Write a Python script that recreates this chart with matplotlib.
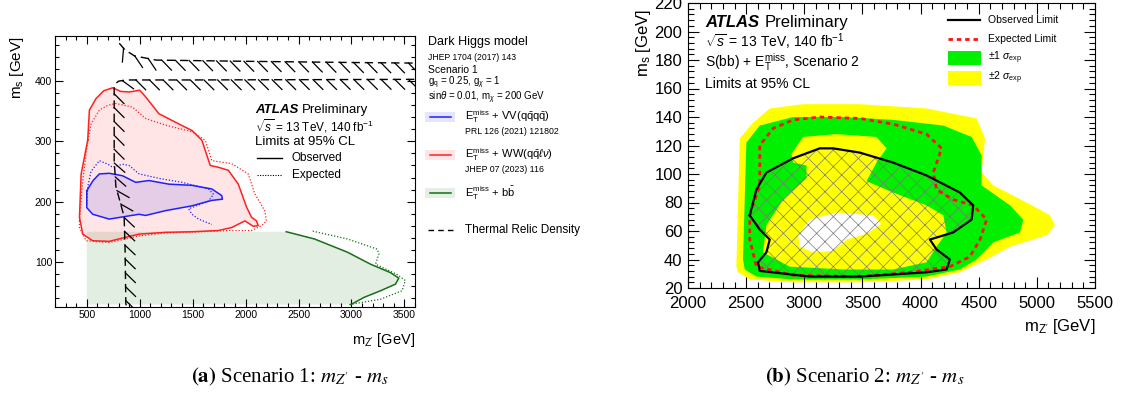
import matplotlib
matplotlib.use('Agg')
import matplotlib.pyplot as plt
import matplotlib.patheffects as pe
from matplotlib.ticker import MultipleLocator

plt.rcParams['font.family'] = ['Liberation Sans', 'DejaVu Sans']
plt.rcParams['mathtext.fontset'] = 'custom'
plt.rcParams['mathtext.rm'] = 'Liberation Sans'
plt.rcParams['mathtext.it'] = 'Liberation Sans:italic'
plt.rcParams['mathtext.bf'] = 'Liberation Sans:bold'
plt.rcParams['mathtext.sf'] = 'Liberation Sans'
plt.rcParams['hatch.linewidth'] = 0.5

# ---- scenario 1 (left): m_Z' vs m_s contours, GeV ----
red_obs_x = [509, 525, 587, 660, 744, 820, 900, 1000, 1056, 1181, 1369, 1494, 1587, 1666, 1744, 1837,
             1931, 2009, 2056, 2103, 2119, 2072, 1994, 1869, 1744, 1500, 1244, 994, 850, 712, 556, 462,
             431, 447, 509]
red_obs_y = [302, 352, 371, 384, 389, 383, 382, 385, 374, 346, 329, 318, 302, 260, 257, 252,
             229, 191, 174, 168, 160, 159, 168, 157, 152, 150, 149, 146, 140, 134, 135, 146,
             174, 246, 302]
red_exp_x = [431, 462, 509, 541, 619, 700, 775, 850, 931, 1056, 1244, 1494, 1619, 1681, 1869, 2025,
             2087, 2181, 2197, 2150, 2056, 1869, 1600, 1244, 994, 712, 494, 431, 431]
red_exp_y = [168, 235, 300, 329, 352, 360, 363, 360, 357, 338, 327, 316, 302, 268, 263, 246,
             213, 185, 168, 160, 152, 152, 150, 148, 143, 132, 135, 157, 168]

blue_obs_x = [500, 560, 619, 712, 837, 962, 1087, 1275, 1494, 1681, 1775, 1781, 1681, 1494, 1244,
              1056, 994, 712, 556, 500, 500]
blue_obs_y = [218, 235, 246, 247, 243, 232, 235, 229, 227, 221, 210, 204, 202, 193, 185,
              177, 179, 171, 179, 190, 218]
blue_exp_x = [500, 510, 540, 619, 700, 744, 840, 900, 994, 1200, 1400, 1650, 1697, 1650, 1462,
              1494, 1556, 1681]
blue_exp_y = [196, 225, 250, 268, 262, 257, 262, 260, 246, 238, 232, 221, 212, 201, 188,
              179, 171, 162]

green_obs_x = [2384, 2650, 2962, 3181, 3369, 3447, 3416, 3275, 3119, 2994]
green_obs_y = [150, 138, 116, 96, 82, 73, 63, 52, 41, 29]
green_exp_x = [2634, 2962, 3244, 3259, 3228, 3431, 3509, 3478, 3275, 2978]
green_exp_y = [151, 138, 121, 113, 96, 79, 69, 52, 38, 29]
green_low_x = 500

relic_v_x = [759, 759, 775, 853, 862, 869, 880]
relic_v_y = [390, 268, 225, 175, 120, 30, 25]
relic_h1_x = [807, 860, 950, 1155, 2000, 3000, 3600]
relic_h1_y = [463, 452, 442, 435, 433, 431, 430]
relic_h2_x = [780, 800, 873, 1500, 3600]
relic_h2_y = [397, 400, 402, 402, 403]

# ---- scenario 2 (right) ----
y2_out_x = [2416, 2445, 2560, 2703, 2990, 3478, 4051, 4482, 4554, 4525, 4625, 4912, 5113, 5156,
            5084, 4769, 4568, 4338, 4051, 3478, 2904, 2531, 2430]
y2_out_y = [35, 125, 136, 146, 149, 149, 146, 139, 125, 101, 92, 80, 71, 64,
            57, 49, 40, 31, 26, 24, 24, 26, 31]
g1_out_x = [2473, 2502, 2617, 2904, 3334, 3764, 4195, 4439, 4525, 4525, 4769, 4883, 4855, 4625,
            4482, 4338, 4051, 3478, 2904, 2588, 2488]
g1_out_y = [40, 122, 134, 140, 140, 138, 134, 126, 113, 92, 78, 68, 59, 52,
            40, 33, 28, 26, 26, 28, 33]
g1_in_x = [2889, 2990, 3277, 3621, 3707, 3621, 3535, 3764, 4051, 4195, 4224, 4138, 4051, 3764,
           3334, 2875, 2645, 2674, 2818, 3019, 3019, 2904]
g1_in_y = [114, 126, 128, 126, 118, 108, 95, 87, 78, 71, 59, 49, 38, 33,
           33, 35, 45, 64, 82, 97, 106, 108]
y2_in_x = [2947, 3047, 3277, 3592, 3664, 3535, 3363, 3248, 3076, 2961]
y2_in_y = [57, 68, 73, 71, 65, 58, 54, 46, 45, 49]
obs2_x = [2531, 2588, 2674, 2904, 3133, 3248, 3478, 3764, 4051, 4338, 4453, 4439, 4281, 4080,
          4138, 4252, 4224, 4051, 3478, 3047, 2617, 2602, 2674, 2703, 2617, 2531]
obs2_y = [71, 89, 101, 111, 118, 118, 115, 108, 99, 87, 78, 68, 59, 54,
          47, 40, 33, 31, 28, 28, 32, 38, 45, 54, 61, 71]
exp2_x = [2531, 2617, 2617, 2732, 2904, 3133, 3478, 3764, 4051, 4181, 4109, 4138, 4281, 4453,
          4568, 4511, 4424, 4252, 3908, 3478, 2904, 2588, 2531, 2531]
exp2_y = [71, 92, 120, 132, 138, 140, 139, 135, 128, 118, 101, 89, 82, 78,
          68, 54, 42, 35, 31, 28, 29, 35, 54, 71]

W, H = 1124, 394
fig = plt.figure(figsize=(W / 100, H / 100), dpi=100)


def box(l, t, r, b):
    return [l / W, 1 - b / H, (r - l) / W, (b - t) / H]


def atlas_ticks(ax, size, maj, mnr, pad):
    ax.tick_params(which='both', direction='in', top=True, right=True, width=0.8,
                   labelsize=size, pad=pad)
    ax.tick_params(which='major', length=maj)
    ax.tick_params(which='minor', length=mnr)


# ------------------ left panel ------------------
ax1 = fig.add_axes(box(55, 36, 415, 307))
ax1.fill([green_low_x] + green_obs_x + [green_low_x],
         [150] + green_obs_y + [green_obs_y[-1]], color=(0, 0.4, 0), alpha=0.11, lw=0)
ax1.fill(red_obs_x, red_obs_y, color='red', alpha=0.1, lw=0)
ax1.fill(blue_obs_x, blue_obs_y, color='blue', alpha=0.1, lw=0)
ax1.plot(red_obs_x, red_obs_y, color='#ff2020', lw=1.1, solid_joinstyle='round')
ax1.plot(red_exp_x, red_exp_y, color='#ff2020', lw=0.9, ls=(0, (1, 1.5)))
ax1.plot(blue_obs_x, blue_obs_y, color='#2020ff', lw=1.1, solid_joinstyle='round')
ax1.plot(blue_exp_x, blue_exp_y, color='#2020ff', lw=0.9, ls=(0, (1, 1.5)))
ax1.plot(green_obs_x, green_obs_y, color='#157015', lw=1.1, solid_joinstyle='round')
ax1.plot(green_exp_x, green_exp_y, color='#157015', lw=0.9, ls=(0, (1, 1.5)))

# thermal relic density: dashed line plus hatch ticks on the excluded side
for xs, ys, ang in [(relic_v_x, relic_v_y, 45), (relic_h1_x, relic_h1_y, -45),
                    (relic_h2_x, relic_h2_y, -45)]:
    ax1.plot(xs, ys, color='black', lw=1.0, dashes=(6, 3.5), zorder=6)
    ax1.plot(xs, ys, color='black', lw=0.9, zorder=6,
             path_effects=[pe.TickedStroke(spacing=9.5, angle=ang, length=1.05)])

ax1.set_xlim(200, 3600)
ax1.set_ylim(25, 475)
ax1.xaxis.set_major_locator(MultipleLocator(500))
ax1.xaxis.set_minor_locator(MultipleLocator(100))
ax1.yaxis.set_major_locator(MultipleLocator(100))
ax1.yaxis.set_minor_locator(MultipleLocator(20))
atlas_ticks(ax1, 7.5, 6, 3, 2)
ax1.set_xlabel("m$_{\\mathrm{Z'}}$ [GeV]", loc='right', fontsize=10.5)
ax1.xaxis.set_label_coords(1.0, -0.09)
ax1.set_ylabel("m$_{\\mathrm{s}}$ [GeV]", loc='top', fontsize=11)
ax1.yaxis.set_label_coords(-0.08, 1.0)

# ------------------ right panel ------------------
ax2 = fig.add_axes(box(688, 3, 1095, 288))
ax2.fill(y2_out_x, y2_out_y, color='#ffff00', lw=0)
ax2.fill(g1_out_x, g1_out_y, color='#00f000', lw=0)
ax2.fill(g1_in_x, g1_in_y, color='#ffff00', lw=0)
ax2.fill(y2_in_x, y2_in_y, color='white', lw=0)
ax2.fill(obs2_x, obs2_y, facecolor='none', edgecolor='#7a7a7a', hatch='xx', lw=0)
ax2.plot(exp2_x, exp2_y, color='#ff1010', lw=2, dashes=(1.6, 1.4))
ax2.plot(obs2_x, obs2_y, color='black', lw=1.6, solid_joinstyle='round')
ax2.set_xlim(2000, 5500)
ax2.set_ylim(20, 220)
ax2.xaxis.set_major_locator(MultipleLocator(500))
ax2.xaxis.set_minor_locator(MultipleLocator(100))
ax2.yaxis.set_major_locator(MultipleLocator(20))
ax2.yaxis.set_minor_locator(MultipleLocator(4))
atlas_ticks(ax2, 12, 8, 4, 4)
ax2.tick_params(axis='x', pad=6)
ax2.set_xlabel("m$_{\\mathrm{Z'}}$ [GeV]", loc='right', fontsize=12)
ax2.xaxis.set_label_coords(1.0, -0.1)
ax2.set_ylabel("m$_{\\mathrm{s}}$ [GeV]", loc='top', fontsize=12)
ax2.yaxis.set_label_coords(-0.085, 0.98)

# ------------------ overlay for texts / legends (pixel coordinates) ------------------
ov = fig.add_axes([0, 0, 1, 1])
ov.set_xlim(0, W)
ov.set_ylim(H, 0)
ov.axis('off')


def atlas(x, y, size):
    t = ov.text(x, y, 'ATLAS', fontsize=size, fontweight='bold', fontstyle='italic', va='center')
    ov.annotate('Preliminary', xy=(1, 0.5), xycoords=t, xytext=(size * 0.3, 0),
                textcoords='offset points', fontsize=size, va='center')


# left in-frame text
atlas(255, 110, 9.5)
ov.text(255, 126, "$\\sqrt{s}$ = 13 TeV, 140 fb$^{-1}$", fontsize=8.5, va='center')
ov.text(255, 142, "Limits at 95% CL", fontsize=9.5, va='center')
ov.plot([257, 282], [158, 158], color='black', lw=1)
ov.text(292, 158, "Observed", fontsize=8.5, va='center')
ov.plot([257, 282], [175, 175], color='black', lw=0.8, ls=(0, (1, 1.3)))
ov.text(292, 175, "Expected", fontsize=8.5, va='center')

# left outside legend
ov.text(428, 42, "Dark Higgs model", fontsize=9, va='center')
ov.text(428, 57, "JHEP 1704 (2017) 143", fontsize=6.2, va='center')
ov.text(428, 70, "Scenario 1", fontsize=7.5, va='center')
ov.text(428, 83, "g$_{\\mathrm{q}}$ = 0.25, g$_{\\chi}$ = 1", fontsize=7, va='center')
ov.text(428, 98, "sin$\\theta$ = 0.01, m$_{\\chi}$ = 200 GeV", fontsize=7, va='center')

leg1 = [
    (117, 'blue', '#2020ff', "E$_{\\mathrm{T}}^{\\mathrm{miss}}$ + VV(q$\\bar{\\mathrm{q}}$q$\\bar{\\mathrm{q}}$)",
     "PRL 126 (2021) 121802"),
    (155, 'red', '#ff2020', "E$_{\\mathrm{T}}^{\\mathrm{miss}}$ + WW(q$\\bar{\\mathrm{q}}\\ell\\nu$)",
     "JHEP 07 (2023) 116"),
    (193, (0, 0.4, 0), '#157015', "E$_{\\mathrm{T}}^{\\mathrm{miss}}$ + b$\\bar{\\mathrm{b}}$", None),
]
for yy, fc, lc, lab, ref in leg1:
    ov.fill_between([425, 455], yy - 5, yy + 5, color=fc, alpha=0.1, lw=0)
    ov.plot([430, 451], [yy, yy], color=lc, lw=1.1)
    ov.text(465, yy, lab, fontsize=8, va='center')
    if ref:
        ov.text(465, yy + 14, ref, fontsize=6.3, va='center')
ov.plot([428, 455], [230, 230], color='black', lw=1, dashes=(4, 3))
ov.text(465, 230, "Thermal Relic Density", fontsize=8.5, va='center')

# right in-frame text
atlas(705, 22, 12)
ov.text(705, 42, "$\\sqrt{s}$ = 13 TeV, 140 fb$^{-1}$", fontsize=10, va='center')
ov.text(705, 62, "S(bb) + E$_{\\mathrm{T}}^{\\mathrm{miss}}$, Scenario 2", fontsize=10, va='center')
ov.text(705, 84, "Limits at 95% CL", fontsize=10, va='center')

ov.plot([948, 980], [20, 20], color='black', lw=1.6)
ov.text(988, 20, "Observed Limit", fontsize=7.5, va='center')
ov.plot([948, 980], [39, 39], color='#ff1010', lw=2, dashes=(1.6, 1.4))
ov.text(988, 39, "Expected Limit", fontsize=7.5, va='center')
ov.fill_between([948, 981], 51, 65, color='#00f000', lw=0)
ov.text(988, 58, "$\\pm$1 $\\sigma_{\\mathrm{exp}}$", fontsize=7.5, va='center')
ov.fill_between([948, 981], 71, 85, color='#ffff00', lw=0)
ov.text(988, 78, "$\\pm$2 $\\sigma_{\\mathrm{exp}}$", fontsize=7.5, va='center')

# captions
cap = dict(fontsize=15, va='center', ha='center', family='Liberation Serif', math_fontfamily='stix')
ov.text(290, 377, "$\\mathbf{(a)}$ Scenario 1: $m_{Z'}$ - $m_s$", **cap)
ov.text(865, 377, "$\\mathbf{(b)}$ Scenario 2: $m_{Z'}$ - $m_s$", **cap)

fig.savefig('out.png', dpi=100)
